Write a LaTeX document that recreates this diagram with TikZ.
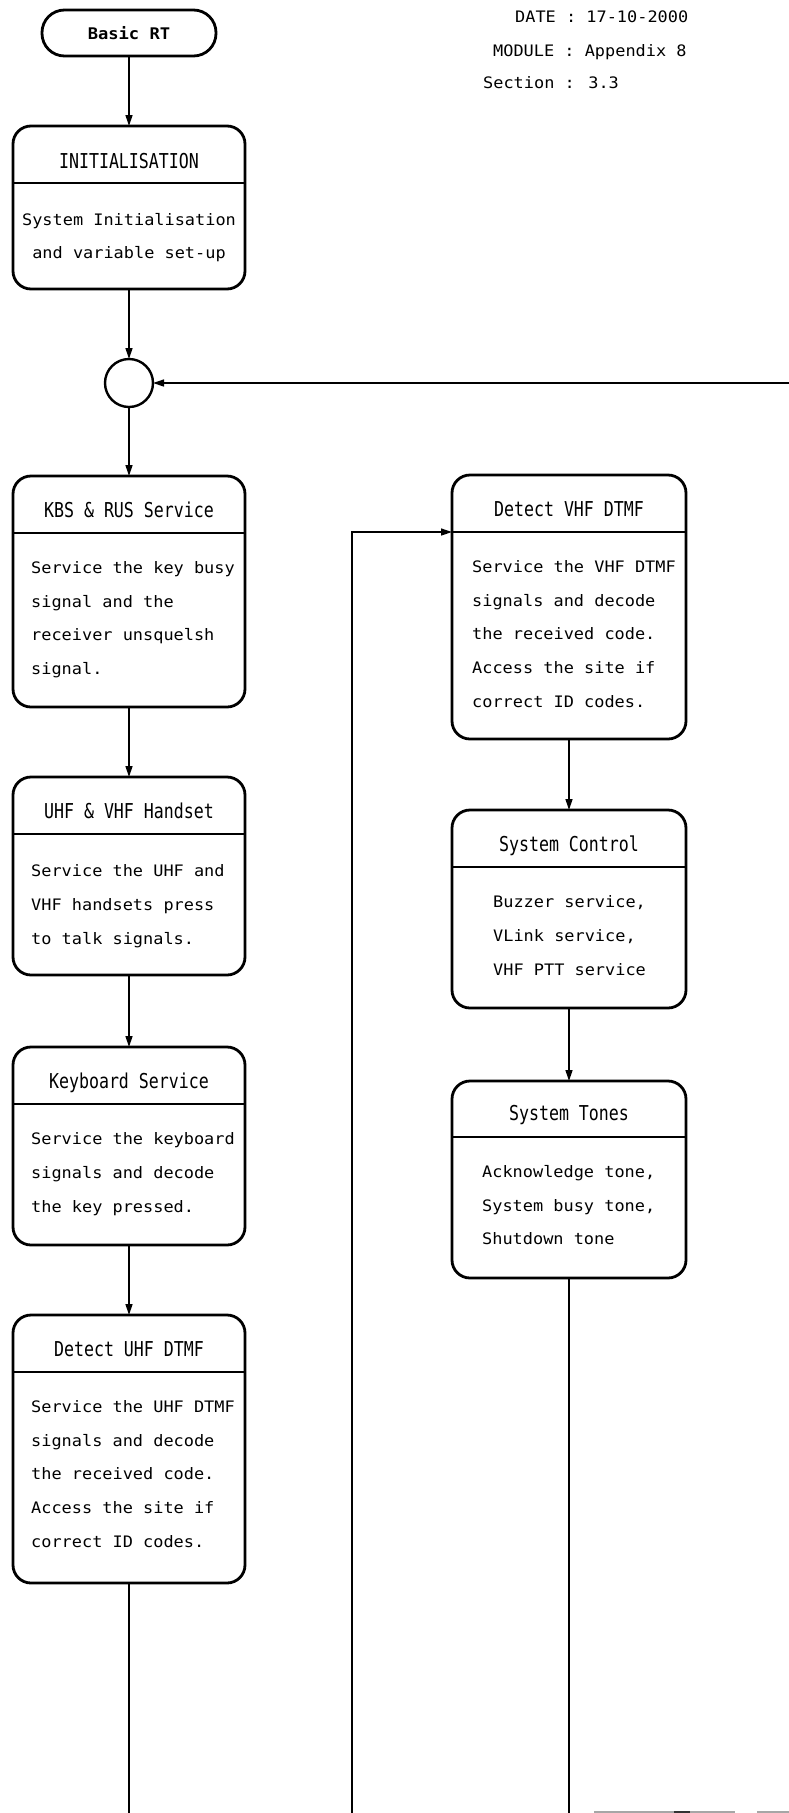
\documentclass[tikz,border=0pt]{standalone}
\usepackage{fontspec}
\usetikzlibrary{arrows.meta}
% plotter-like monospaced lettering
\newfontfamily\bodyfont[FakeStretch=1.07]{DejaVu Sans Mono}
\newfontfamily\headfont[FakeStretch=0.81]{DejaVu Sans Mono}
\newcommand\bodytext{\bodyfont\fontsize{15.8}{18}\selectfont}
\newcommand\headtext{\headfont\fontsize{20.5}{24}\selectfont}
\newcommand\termtext{\bodyfont\bfseries\fontsize{16}{18}\selectfont}

\begin{document}
\begin{tikzpicture}[x=1pt,y=-1pt,
  procbox/.style={draw, line width=2.8pt, rounded corners=18pt, inner sep=0pt,
    outer sep=0pt, anchor=north west},
  leftbox/.style={procbox, minimum width=232pt},
  rightbox/.style={procbox, minimum width=234pt},
  divider/.style={line width=2pt},
  link/.style={line width=1.3pt, -{Triangle[length=11pt,width=7pt]}},
  plain/.style={line width=1.3pt},
  head/.style={font=\headtext, inner sep=0pt, anchor=base},
  body/.style={font=\bodytext, inner sep=0pt, anchor=base west},
  bodyc/.style={font=\bodytext, inner sep=0pt, anchor=base},
  terminal/.style={draw, line width=2.8pt, rounded corners=22.5pt, minimum width=174pt,
    minimum height=46pt, inner sep=0pt, outer sep=0pt, font=\termtext},
  junction/.style={draw, circle, line width=2.4pt, minimum size=48pt, inner sep=0pt, outer sep=0pt}
]
\useasboundingbox (0,0) rectangle (789,1813);

% document header
\node[body] (date) at (515,22) {DATE : 17-10-2000};
\node[body] (module) at (493,56) {MODULE : Appendix 8};
\node[body] (section) at (483,88) {Section : 3.3};

% start terminal
\node[terminal] (start) at (129,33) {Basic RT};

% INITIALISATION
\node[leftbox, minimum height=163pt] (init) at (13,126) {};
\draw[divider] (13,183) -- (245,183);
\node[head] (initH) at (129,168) {INITIALISATION};
\node[bodyc] (initB1) at (129,225) {System Initialisation};
\node[bodyc] (initB2) at (129,258) {and variable set-up};

% loop junction
\node[junction] (junc) at (129,383) {};

% KBS & RUS Service
\node[leftbox, minimum height=231pt] (kbs) at (13,476) {};
\draw[divider] (13,533) -- (245,533);
\node[head] (kbsH) at (129,517) {KBS \& RUS Service};
\node[body] (kbsB1) at (31,573) {Service the key busy};
\node[body] (kbsB2) at (31,607) {signal and the};
\node[body] (kbsB3) at (31,640) {receiver unsquelsh};
\node[body] (kbsB4) at (31,674) {signal.};

% UHF & VHF Handset
\node[leftbox, minimum height=198pt] (uhf) at (13,777) {};
\draw[divider] (13,834) -- (245,834);
\node[head] (uhfH) at (129,818) {UHF \& VHF Handset};
\node[body] (uhfB1) at (31,876) {Service the UHF and};
\node[body] (uhfB2) at (31,910) {VHF handsets press};
\node[body] (uhfB3) at (31,944) {to talk signals.};

% Keyboard Service
\node[leftbox, minimum height=198pt] (kbd) at (13,1047) {};
\draw[divider] (13,1104) -- (245,1104);
\node[head] (kbdH) at (129,1088) {Keyboard Service};
\node[body] (kbdB1) at (31,1144) {Service the keyboard};
\node[body] (kbdB2) at (31,1178) {signals and decode};
\node[body] (kbdB3) at (31,1212) {the key pressed.};

% Detect UHF DTMF
\node[leftbox, minimum height=268pt] (duhf) at (13,1315) {};
\draw[divider] (13,1372) -- (245,1372);
\node[head] (duhfH) at (129,1356) {Detect UHF DTMF};
\node[body] (duhfB1) at (31,1412) {Service the UHF DTMF};
\node[body] (duhfB2) at (31,1446) {signals and decode};
\node[body] (duhfB3) at (31,1479) {the received code.};
\node[body] (duhfB4) at (31,1513) {Access the site if};
\node[body] (duhfB5) at (31,1547) {correct ID codes.};

% Detect VHF DTMF
\node[rightbox, minimum height=264pt] (dvhf) at (452,475) {};
\draw[divider] (452,532) -- (686,532);
\node[head] (dvhfH) at (569,516) {Detect VHF DTMF};
\node[body] (dvhfB1) at (472,572) {Service the VHF DTMF};
\node[body] (dvhfB2) at (472,606) {signals and decode};
\node[body] (dvhfB3) at (472,639) {the received code.};
\node[body] (dvhfB4) at (472,673) {Access the site if};
\node[body] (dvhfB5) at (472,707) {correct ID codes.};

% System Control
\node[rightbox, minimum height=198pt] (sysc) at (452,810) {};
\draw[divider] (452,867) -- (686,867);
\node[head] (syscH) at (569,851) {System Control};
\node[body] (syscB1) at (493,907) {Buzzer service,};
\node[body] (syscB2) at (493,941) {VLink service,};
\node[body] (syscB3) at (493,975) {VHF PTT service};

% System Tones
\node[rightbox, minimum height=197pt] (tones) at (452,1081) {};
\draw[divider] (452,1137) -- (686,1137);
\node[head] (tonesH) at (569,1120) {System Tones};
\node[body] (tonesB1) at (482,1177) {Acknowledge tone,};
\node[body] (tonesB2) at (482,1211) {System busy tone,};
\node[body] (tonesB3) at (482,1244) {Shutdown tone};

% free ends of the connectors
\coordinate (retIn) at (789,383);
\coordinate (tailL) at (129,1813);
\coordinate (loopUp) at (352,1813);
\coordinate (vhfIn) at (452,532);
\coordinate (tailR) at (569,1813);

% connectors
\draw[link] (start) -- (init);
\draw[link] (init) -- (junc);
\draw[link] (junc) -- (kbs);
\draw[link] (kbs) -- (uhf);
\draw[link] (uhf) -- (kbd);
\draw[link] (kbd) -- (duhf);
\draw[plain] (duhf.south) -- (tailL);
\draw[link] (retIn) -- (junc);
\draw[link] (loopUp) |- (vhfIn);
\draw[link] (dvhf.south) -- (sysc.north);
\draw[link] (sysc.south) -- (tones.north);
\draw[plain] (tones.south) -- (tailR);

% edge of the next sheet, bottom right
\draw[black!35, line width=1.5pt] (594,1812) -- (735,1812);
\draw[black!35, line width=1.5pt] (757,1812) -- (789,1812);
\draw[black!80, line width=2.5pt] (674,1812) -- (690,1812);
\end{tikzpicture}
\end{document}
